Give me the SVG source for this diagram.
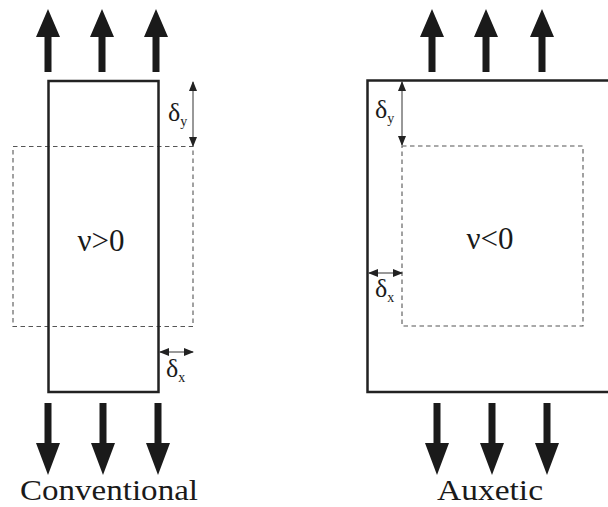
<svg xmlns="http://www.w3.org/2000/svg" width="608" height="507" viewBox="0 0 608 507">
<style>
.solid{fill:none;stroke:#222;stroke-width:2.5}
.dash{fill:none;stroke:#555;stroke-width:1.1;stroke-dasharray:4.5,3.5}
.dim{stroke:#333;stroke-width:1;fill:none}
.big{fill:#1a1a1a}
text{fill:#1a1a1a;font-family:'Liberation Serif','Times New Roman',serif}
</style>
<defs>
<marker id="ah" markerWidth="10" markerHeight="8" refX="9" refY="4" orient="auto-start-reverse" markerUnits="userSpaceOnUse">
<path d="M0,0 L10,4 L0,8 Z" fill="#222"/>
</marker>
<path id="up" d="M-3.5,72 L-3.5,37 L-12,37 L0,9 L12,37 L3.5,37 L3.5,72 Z"/>
<path id="down" d="M-3.5,403 L-3.5,443 L-12,443 L0,475 L12,443 L3.5,443 L3.5,403 Z"/>
</defs>

<g id="conventional">
<g id="conv-dashed"><rect class="dash" x="13" y="146.5" width="180" height="180"/></g>
<g id="conv-solid"><rect class="solid" x="48.5" y="81" width="110" height="311"/></g>
<text x="101" y="251" font-size="31" text-anchor="middle">ν&gt;0</text>
<g id="conv-dy">
<text x="168" y="121" font-size="26">δ<tspan font-size="14" dy="5">y</tspan></text>
</g>
<g id="conv-dx">
<text x="166" y="377" font-size="26">δ<tspan font-size="14" dy="5">x</tspan></text>
</g>
<text x="109" y="500" font-size="29" text-anchor="middle" textLength="178" lengthAdjust="spacingAndGlyphs">Conventional</text>
</g>

<g id="auxetic">
<g id="aux-dashed"><rect class="dash" x="402" y="146" width="181" height="180"/></g>
<g id="aux-solid"><rect class="solid" x="367.5" y="80.5" width="250" height="311.5"/></g>
<text x="490" y="249" font-size="31" text-anchor="middle">ν&lt;0</text>
<g id="aux-dy">
<text x="375" y="118" font-size="26">δ<tspan font-size="14" dy="5">y</tspan></text>
</g>
<g id="aux-dx">
<text x="375" y="297" font-size="26">δ<tspan font-size="14" dy="5">x</tspan></text>
</g>
<text x="490" y="500" font-size="29" text-anchor="middle" textLength="106" lengthAdjust="spacingAndGlyphs">Auxetic</text>
</g>

<g id="connectors">
<line class="dim" x1="193" y1="82" x2="193" y2="146" marker-start="url(#ah)" marker-end="url(#ah)"/>
<line class="dim" x1="160" y1="352" x2="193" y2="352" marker-start="url(#ah)" marker-end="url(#ah)"/>
<line class="dim" x1="402" y1="82" x2="402" y2="145" marker-start="url(#ah)" marker-end="url(#ah)"/>
<line class="dim" x1="369" y1="273" x2="402" y2="273" marker-start="url(#ah)" marker-end="url(#ah)"/>
<g class="big">
<use href="#up" x="48"/>
<use href="#up" x="102"/>
<use href="#up" x="156"/>
<use href="#down" x="48"/>
<use href="#down" x="103"/>
<use href="#down" x="158"/>
<use href="#up" x="432"/>
<use href="#up" x="486"/>
<use href="#up" x="542"/>
<use href="#down" x="437"/>
<use href="#down" x="492"/>
<use href="#down" x="547"/>
</g>
</g>
</svg>
